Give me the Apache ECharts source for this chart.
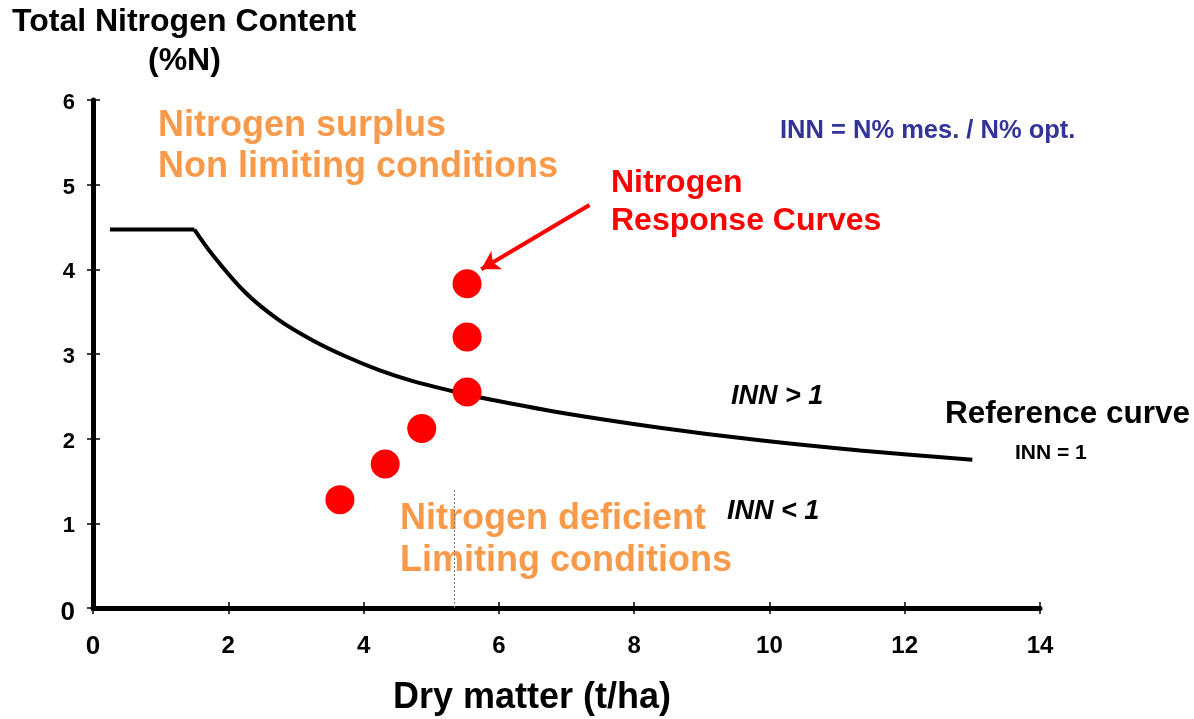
<!DOCTYPE html>
<html>
<head>
<meta charset="utf-8">
<script src="https://cdn.jsdelivr.net/npm/echarts@6/dist/echarts.min.js"></script>
<style>html,body{margin:0;padding:0;background:#fff;}#c{width:1194px;height:719px;}</style>
</head>
<body>
<div id="c"></div>
<script>
// Data
const xTickValues = [0, 2, 4, 6, 8, 10, 12, 14];
const yTickValues = [0, 1, 2, 3, 4, 5, 6];
const refCurveW = [0.25, 1.5, 1.77, 2.26, 2.75, 3.25, 3.74, 4.23, 4.73, 5.32, 5.7, 6.9, 8.38, 9.86, 11.34, 13.0];
const refCurveN = [4.47, 4.47, 4.17, 3.72, 3.40, 3.16, 2.97, 2.81, 2.68, 2.56, 2.49, 2.31, 2.13, 1.98, 1.86, 1.75];
const dotsW = [3.65, 4.32, 4.86, 5.53, 5.53, 5.53];
const dotsN = [1.28, 1.70, 2.12, 2.55, 3.20, 3.83];
const arrowFrom = [7.34, 4.76];
const arrowTo = [5.74, 4.00];
const dottedLineW = 5.34;
const dottedLineTop = 1.39;

const FONT = 'Liberation Sans, Arial, sans-serif';
const ORANGE = '#F99A4B';

const chart = echarts.init(document.getElementById('c'), null, {renderer: 'canvas'});

const refPoints = refCurveW.map((w, i) => [w, refCurveN[i]]);
const flatPart = refPoints.slice(0, 2);
const curvedPart = refPoints.slice(1);

const tickLabel = (size, pad) => ({
  formatter: v => v === 0 ? '{z|0}' : '{n|' + v + '}',
  rich: {
    z: {fontFamily: FONT, fontWeight: 'bold', fontSize: 26, color: '#000', padding: [pad[0], 0, 0, 0]},
    n: {fontFamily: FONT, fontWeight: 'bold', fontSize: size, color: '#000', padding: [pad[1], 0, 0, 0]}
  }
});

const option = {
  backgroundColor: '#fff',
  animation: false,
  grid: {left: 93, right: 154, top: 100, bottom: 111, containLabel: false, outerBoundsMode: 'none'},
  xAxis: [
    {
      type: 'value', min: xTickValues[0], max: xTickValues[xTickValues.length - 1], interval: 2,
      axisLine: {show: true, onZero: false, lineStyle: {color: '#000', width: 5}},
      axisTick: {show: true, length: 6, lineStyle: {color: '#000', width: 1.5}},
      axisLabel: Object.assign({margin: 26, color: '#000'}, tickLabel(24, [0, 0])),
      splitLine: {show: false}
    },
    {
      type: 'value', min: 0, max: 14, interval: 2, position: 'bottom',
      axisLine: {show: false},
      axisTick: {show: true, inside: true, length: 6, lineStyle: {color: '#000', width: 1.5}},
      axisLabel: {show: false}, splitLine: {show: false}
    }
  ],
  yAxis: [
    {
      type: 'value', min: yTickValues[0], max: yTickValues[yTickValues.length - 1], interval: 1,
      axisLine: {show: true, onZero: false, lineStyle: {color: '#000', width: 5}},
      axisTick: {show: true, length: 6, lineStyle: {color: '#000', width: 1.5}},
      axisLabel: Object.assign({margin: 18, color: '#000'}, tickLabel(22, [10, 6])),
      splitLine: {show: false}
    },
    {
      type: 'value', min: 0, max: 6, interval: 1, position: 'left',
      axisLine: {show: false},
      axisTick: {show: true, inside: true, length: 7, lineStyle: {color: '#000', width: 1.5}},
      axisLabel: {show: false}, splitLine: {show: false}
    }
  ],
  series: [
    {
      type: 'line', name: 'Reference plateau', data: flatPart,
      showSymbol: false, symbol: 'none', smooth: false,
      lineStyle: {color: '#000', width: 4}, z: 3, silent: true
    },
    {
      type: 'line', name: 'Reference curve', data: curvedPart,
      showSymbol: false, symbol: 'none', smooth: 0.35,
      lineStyle: {color: '#000', width: 4}, z: 3, silent: true,
      markLine: {
        silent: true, symbol: ['none', 'none'], animation: false,
        label: {show: false},
        lineStyle: {color: '#777', width: 1, type: [2, 2]},
        data: [[{coord: [dottedLineW, 0]}, {coord: [dottedLineW, dottedLineTop]}]]
      }
    },
    {
      type: 'scatter', name: 'Nitrogen response',
      data: dotsW.map((w, i) => [w, dotsN[i]]),
      symbolSize: 29, itemStyle: {color: '#FF0000', opacity: 1}, z: 4, silent: true,
      markLine: {
        silent: true, symbol: ['none', 'arrow'], symbolSize: [16, 18], animation: false,
        label: {show: false},
        lineStyle: {color: '#FF0000', width: 4, type: 'solid'},
        data: [[{coord: arrowFrom}, {coord: arrowTo}]]
      }
    }
  ],
  graphic: [
    {type: 'text', left: 12, top: 6, style: {text: 'Total Nitrogen Content', font: 'bold 32px ' + FONT, fill: '#000'}},
    {type: 'text', left: 148, top: 45, style: {text: '(%N)', font: 'bold 32px ' + FONT, fill: '#000'}},
    {type: 'text', x: 532, y: 698, style: {text: 'Dry matter (t/ha)', font: 'bold 36px ' + FONT, fill: '#000', textAlign: 'center', textVerticalAlign: 'middle'}},
    {type: 'text', left: 158, top: 106, style: {text: 'Nitrogen surplus\nNon limiting conditions', font: 'bold 36px ' + FONT, fill: ORANGE, lineHeight: 41}},
    {type: 'text', left: 400, top: 498, style: {text: 'Nitrogen deficient\nLimiting conditions', font: 'bold 36px ' + FONT, fill: ORANGE, lineHeight: 42}},
    {type: 'text', left: 611, top: 164, style: {text: 'Nitrogen\nResponse Curves', font: 'bold 32px ' + FONT, fill: '#FF0000', lineHeight: 38}},
    {type: 'text', left: 780, top: 118, style: {text: 'INN = N% mes. / N% opt.', font: 'bold 25.5px ' + FONT, fill: '#333399'}},
    {type: 'text', left: 731, top: 383, style: {text: 'INN > 1', font: 'italic bold 27px ' + FONT, fill: '#000'}},
    {type: 'text', left: 727, top: 498, style: {text: 'INN < 1', font: 'italic bold 27px ' + FONT, fill: '#000'}},
    {type: 'text', left: 945, top: 398, style: {text: 'Reference curve', font: 'bold 31.5px ' + FONT, fill: '#000'}},
    {type: 'text', left: 1015, top: 443, style: {text: 'INN = 1', font: 'bold 21px ' + FONT, fill: '#000'}}
  ]
};
chart.setOption(option);
</script>
</body>
</html>
